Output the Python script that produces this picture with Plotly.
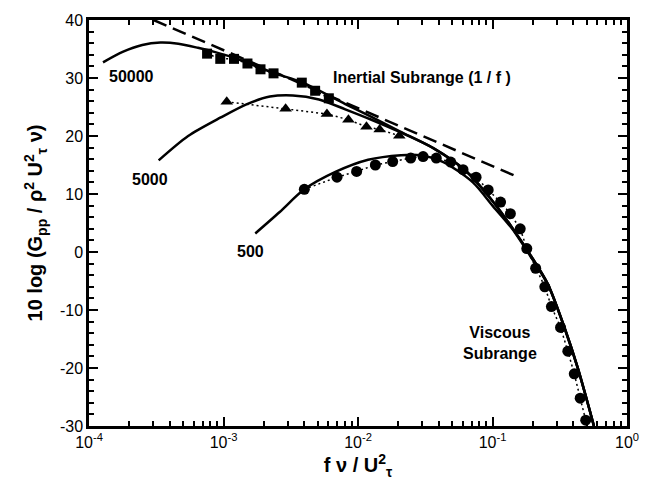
import math
import plotly.graph_objects as go

# ---- data ----
sq_f = [7.55e-4, 9.46e-4, 1.197e-3, 1.507e-3, 1.884e-3, 2.355e-3, 3.82e-3, 4.80e-3, 6.07e-3]
sq_v = [34.2, 33.3, 33.3, 32.5, 31.5, 30.8, 29.2, 27.8, 26.5]

tri_f = [1.057e-3, 2.897e-3, 5.875e-3, 8.49e-3, 1.156e-2, 1.449e-2, 2.028e-2]
tri_v = [25.9, 24.7, 23.8, 22.8, 21.6, 21.1, 20.05]

cir_f = [3.99e-3, 6.98e-3, 9.77e-3, 1.346e-2, 1.811e-2, 2.466e-2, 3.048e-2, 3.82e-2,
         4.89e-2, 6.04e-2, 7.55e-2, 9.29e-2, 0.1148, 0.1358, 0.1607, 0.1799, 0.2094,
         0.2449, 0.2742, 0.3206, 0.3631, 0.4055, 0.4487, 0.4932]
cir_v = [10.8, 12.9, 13.9, 15.0, 15.6, 16.2, 16.45, 16.2, 15.5, 14.2, 12.9, 10.7, 8.6,
         6.6, 4.0, 0.6, -2.8, -6.0, -9.4, -13.0, -17.1, -21.0, -25.2, -29.0]

c50000_f = [1.271e-4, 1.778e-4, 2.489e-4, 3.396e-4, 4.613e-4, 6.457e-4, 8.55e-4, 1.197e-3,
            2.344e-3, 3.89e-3, 8.04e-3, 1.259e-2, 2.042e-2, 3.63e-2, 6.31e-2, 0.1, 0.14,
            0.1959, 0.2588, 0.3428, 0.4295, 0.5224, 0.5675]
c50000_v = [32.7, 34.5, 35.7, 36.1, 35.9, 35.2, 34.5, 33.5, 30.9, 29.2, 25.5, 23.3, 20.8,
            17.9, 14.0, 8.8, 4.2, -0.9, -5.6, -13.0, -19.9, -26.9, -30.0]

c5000_f = [3.296e-4, 5.458e-4, 9.55e-4, 1.496e-3, 2.213e-3, 3.281e-3, 5.129e-3, 8.04e-3,
           1.259e-2, 2.042e-2, 3.63e-2, 6.31e-2, 0.1, 0.14, 0.1959, 0.2588, 0.3428,
           0.4295, 0.5224, 0.5675]
c5000_v = [15.8, 20.0, 23.2, 25.5, 26.8, 27.0, 26.3, 24.6, 22.8, 20.7, 17.9, 14.0, 8.8,
           4.2, -0.9, -5.6, -13.0, -19.9, -26.9, -30.0]

c500_f = [1.722e-3, 2.618e-3, 3.99e-3, 6.79e-3, 1.189e-2, 2.089e-2, 2.917e-2, 4.315e-2,
          7.145e-2, 0.1, 0.14, 0.1959, 0.2588, 0.3428, 0.4295, 0.5224, 0.5675]
c500_v = [3.2, 6.9, 10.8, 13.8, 15.9, 16.7, 16.7, 15.5, 12.0, 8.0, 4.0, -1.1, -5.7,
          -13.1, -20.0, -26.9, -30.0]

dash_f = [3.02e-4, 0.148]
dash_v = [40.0, 13.1]

x_tickvals = [1e-4, 1e-3, 1e-2, 1e-1, 1e0]
x_ticktext = ["10<sup>-4</sup>", "10<sup>-3</sup>", "10<sup>-2</sup>", "10<sup>-1</sup>", "10<sup>0</sup>"]
y_tickvals = [-30, -20, -10, 0, 10, 20, 30, 40]
y_ticktext = ["-30", "-20", "-10", "0", "10", "20", "30", "40"]

labels = [
    ("50000", 2.06e-4, 30.3),
    ("5000", 2.84e-4, 12.55),
    ("500", 1.6e-3, 0.1),
    ("Inertial Subrange (1 / f )", 2.98e-2, 30.1),
    ("Viscous<br>Subrange", 0.1143, -15.75),
]

FONT = "Liberation Sans, Arial, sans-serif"

fig = go.Figure()

dot_line = dict(color="black", width=1.5, dash="2px,3px")
fig.add_trace(go.Scatter(x=sq_f, y=sq_v, mode="lines+markers", line=dot_line,
                         marker=dict(symbol="square", size=10, color="black")))
fig.add_trace(go.Scatter(x=tri_f, y=tri_v, mode="lines+markers", line=dot_line,
                         marker=dict(symbol="triangle-up", size=11, color="black")))
fig.add_trace(go.Scatter(x=cir_f, y=cir_v, mode="lines+markers", line=dot_line,
                         marker=dict(symbol="circle", size=11, color="black")))

solid = dict(color="black", width=2.5, shape="spline", smoothing=0.8)
for xf, yv in [(c50000_f, c50000_v), (c5000_f, c5000_v), (c500_f, c500_v)]:
    fig.add_trace(go.Scatter(x=xf, y=yv, mode="lines", line=solid))

fig.add_trace(go.Scatter(x=dash_f, y=dash_v, mode="lines",
                         line=dict(color="black", width=2.5, dash="14px,7px")))

for txt, xf, yv in labels:
    fig.add_annotation(x=math.log10(xf), y=yv, xref="x", yref="y", text="<b>%s</b>" % txt,
                       showarrow=False, font=dict(family=FONT, size=16, color="black"),
                       align="center")

fig.update_layout(
    width=651, height=485,
    margin=dict(l=89, r=14, t=17, b=59),
    paper_bgcolor="white", plot_bgcolor="white",
    showlegend=False,
    font=dict(family=FONT, color="black", size=16),
)

fig.update_xaxes(
    type="log", range=[-4, 0],
    tickvals=x_tickvals, ticktext=x_ticktext,
    ticks="inside", ticklen=9, tickwidth=2, tickcolor="black",
    showline=True, linewidth=2.5, linecolor="black", mirror="allticks",
    showgrid=False, zeroline=False,
    minor=dict(ticks="inside", ticklen=5, tickwidth=1.5, tickcolor="black",
               dtick="D1", showgrid=False),
    tickfont=dict(family=FONT, size=16, color="black"),
    title=dict(text="<b>f ν / U<sup>2</sup><sub>τ</sub></b>",
               font=dict(family=FONT, size=20, color="black"), standoff=2),
)
fig.update_yaxes(
    range=[-30, 40], tickvals=y_tickvals, ticktext=y_ticktext,
    ticks="inside", ticklen=9, tickwidth=2, tickcolor="black",
    showline=True, linewidth=2.5, linecolor="black", mirror="allticks",
    showgrid=False, zeroline=False,
    minor=dict(ticks="inside", ticklen=5, tickwidth=1.5, tickcolor="black",
               dtick=2, showgrid=False),
    tickfont=dict(family=FONT, size=16, color="black"),
    title=dict(text="<b>10 log (G<sub>pp</sub> / ρ<sup>2</sup> U<sup>2</sup><sub>τ</sub> ν)</b>",
               font=dict(family=FONT, size=20, color="black"), standoff=12),
)

fig.write_html("out.html")
